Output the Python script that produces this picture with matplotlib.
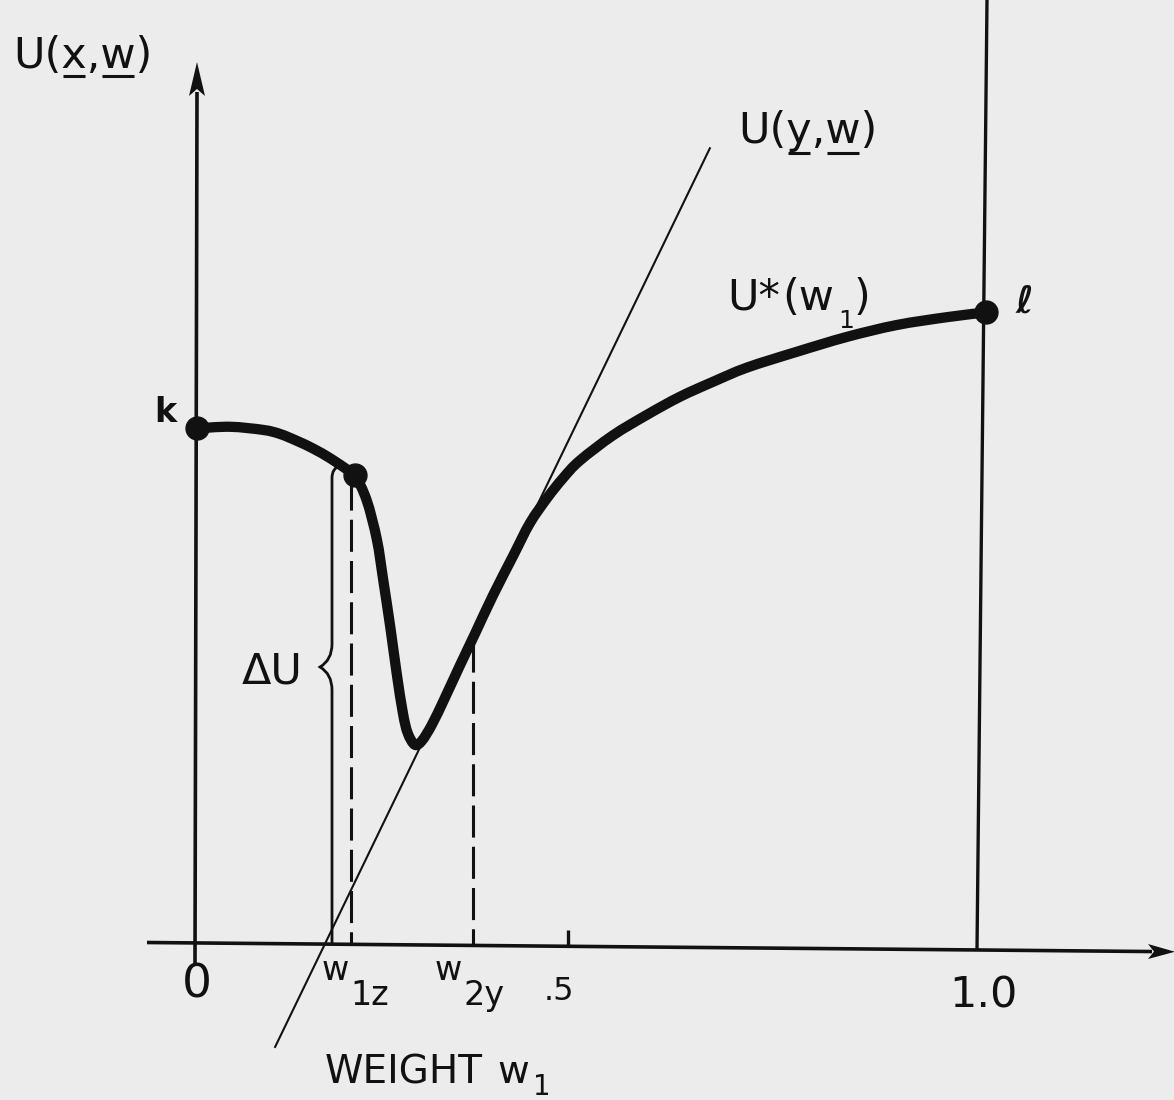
import matplotlib
matplotlib.use("Agg")
import numpy as np
import matplotlib.pyplot as plt
from matplotlib.path import Path
from matplotlib.patches import PathPatch, Polygon

# ---------------- data (w = weight w1, U = utility, arbitrary units) ----------------
w_curve = [0.000, 0.042, 0.084, 0.105, 0.127, 0.148, 0.169, 0.190, 0.200, 0.215,
           0.228, 0.236, 0.245, 0.253, 0.261, 0.267, 0.276, 0.285, 0.298, 0.314,
           0.333, 0.352, 0.375, 0.401, 0.422, 0.444, 0.464, 0.485, 0.527, 0.570,
           0.612, 0.654, 0.697, 0.760, 0.824, 0.887, 0.951, 1.000]
U_curve = [0.651, 0.653, 0.649, 0.644, 0.635, 0.625, 0.613, 0.599, 0.592, 0.560,
           0.510, 0.459, 0.399, 0.341, 0.290, 0.265, 0.250, 0.255, 0.276, 0.309,
           0.350, 0.390, 0.439, 0.490, 0.531, 0.563, 0.588, 0.610, 0.642, 0.668,
           0.691, 0.710, 0.728, 0.748, 0.767, 0.782, 0.792, 0.798]

point_w = [0.000, 0.200, 1.000]      # k, point at w1z, l
point_U = [0.651, 0.592, 0.798]

tangent_w = [0.099, 0.650]           # U(y, w) line
tangent_U = [-0.133, 1.006]

w1z, U_w1z = 0.195, 0.588
w2y, U_w2y = 0.350, 0.383
half_tick = 0.470                    # position of the ".5" tick as drawn

INK = "#111111"
BG = "#ececec"
FAM = ["DejaVu Sans"]

S = 789.0  # pixels per data unit


def P(px, py):
    return ((px - 197) / S, (942 - py) / S)


def axis_py(px):
    return 942.5 + 0.009 * (px - 147)


fig = plt.figure(figsize=(11.74, 11.0), dpi=100, facecolor=BG)
ax = fig.add_axes([0, 0, 1, 1])
ax.set_facecolor(BG)
ax.set_xlim(-197 / S, (1174 - 197) / S)
ax.set_ylim((942 - 1100) / S, 942 / S)
ax.axis("off")
renderer = fig.canvas.get_renderer()


def seg(p0, p1, **kw):
    a, b = P(*p0), P(*p1)
    ax.plot([a[0], b[0]], [a[1], b[1]], color=INK, solid_capstyle="butt", **kw)


# axes lines
seg((195, 963), (197, 92), lw=2.6)
seg((147, axis_py(147)), (1152, axis_py(1152)), lw=2.6)
ax.add_patch(Polygon([P(197, 62), P(189, 96), P(197, 89), P(205, 96)],
                     closed=True, color=INK, lw=0))
ax.add_patch(Polygon([P(1175, axis_py(1175)), P(1148, axis_py(1148) - 7.5),
                      P(1154, axis_py(1154)), P(1148, axis_py(1148) + 7.5)],
                     closed=True, color=INK, lw=0))
# vertical line at w1 = 1.0 (slightly skewed as in the scan)
seg((987, 0), (977, axis_py(977)), lw=2.4)

# .5 tick
tx = 197 + half_tick * S
seg((tx, 930), (tx, axis_py(tx)), lw=2.4)

# tangent line U(y,w)
ax.plot(tangent_w, tangent_U, color=INK, lw=1.5)

# dashed drop lines
for wv, uv in [(w1z, U_w1z), (w2y, U_w2y)]:
    pxv = 197 + wv * S
    ax.plot([wv, wv], [uv, P(pxv, axis_py(pxv))[1]], color=INK, lw=2.2,
            linestyle=(0, (10.5, 3.0)))

# brace for Delta U
bx = 332
verts = [P(bx, axis_py(bx)), P(bx, 690), P(bx, 674), P(320, 667), P(bx, 660),
         P(bx, 644), P(bx, 478), P(bx, 468), P(340, 466)]
codes = [Path.MOVETO, Path.LINETO, Path.CURVE3, Path.CURVE3, Path.CURVE3,
         Path.CURVE3, Path.LINETO, Path.CURVE3, Path.CURVE3]
ax.add_patch(PathPatch(Path(verts, codes), fill=False, lw=2.0, edgecolor=INK))

# main curve U*(w1): smooth (Catmull-Rom as cubic Bezier) through the read points
pts = np.column_stack([w_curve, U_curve])
ext = np.vstack([pts[0], pts, pts[-1]])
cv = [tuple(pts[0])]
cc = [Path.MOVETO]
for i in range(len(pts) - 1):
    p0, p1, p2, p3 = ext[i], ext[i + 1], ext[i + 2], ext[i + 3]
    c1 = p1 + (p2 - p0) / 6.0
    c2 = p2 - (p3 - p1) / 6.0
    cv += [tuple(c1), tuple(c2), tuple(p2)]
    cc += [Path.CURVE4] * 3
ax.add_patch(PathPatch(Path(cv, cc), fill=False, lw=7.4, edgecolor=INK,
                       capstyle="round", joinstyle="round", zorder=4))
ax.plot(point_w, point_U, "o", ms=16.5, color=INK, zorder=5)


def txt(s, px, py, size, ha="left", weight="normal"):
    x, y = P(px, py)
    return ax.text(x, y, s, ha=ha, va="baseline", fontsize=size, family=FAM,
                   color=INK, fontweight=weight)


def width_px(s, size):
    t = ax.text(0, 0, s, fontsize=size, family=FAM)
    w = t.get_window_extent(renderer).width if s else 0.0
    t.remove()
    return w


def uline(x0, x1, py):
    seg((x0, py), (x1, py), lw=2.2)


def underlined(s, left, base, size, idx, uy):
    txt(s, left, base, size)
    for i in idx:
        a = left + width_px(s[:i], size) + 2
        b = left + width_px(s[:i + 1], size) - 2
        uline(a, b, uy)


# U(x, w)  and  U(y, w)
underlined("U(x,w)", 13, 68, 31, [2, 4], 76)
underlined("U(y,w)", 738, 143, 31, [2, 4], 153)

# U*(w1)
txt("U*", 727, 310, 31)
txt("(w", 782, 310, 31)
txt("1", 838, 328, 18)
txt(")", 854, 310, 31)

# Delta U
txt("ΔU", 242, 683, 31)

# k and l
txt("k", 165, 422, 24, ha="center", weight="bold")
txt("ℓ", 1024, 313, 27, ha="center", weight="bold")

# axis labels
txt("0", 197, 998, 34, ha="center")
txt("1.0", 983, 1008, 31, ha="center")
txt(".5", 544, 1000, 23)
txt("w", 322, 980, 24)
txt("1z", 350, 1005, 24)
txt("w", 435, 980, 24)
txt("2y", 463, 1005, 24)

# WEIGHT w1
txt("WEIGHT", 325, 1083, 28)
txt("w", 497, 1083, 28)
txt("1", 533, 1095, 20)

fig.savefig("out.png", dpi=100, facecolor=BG)
